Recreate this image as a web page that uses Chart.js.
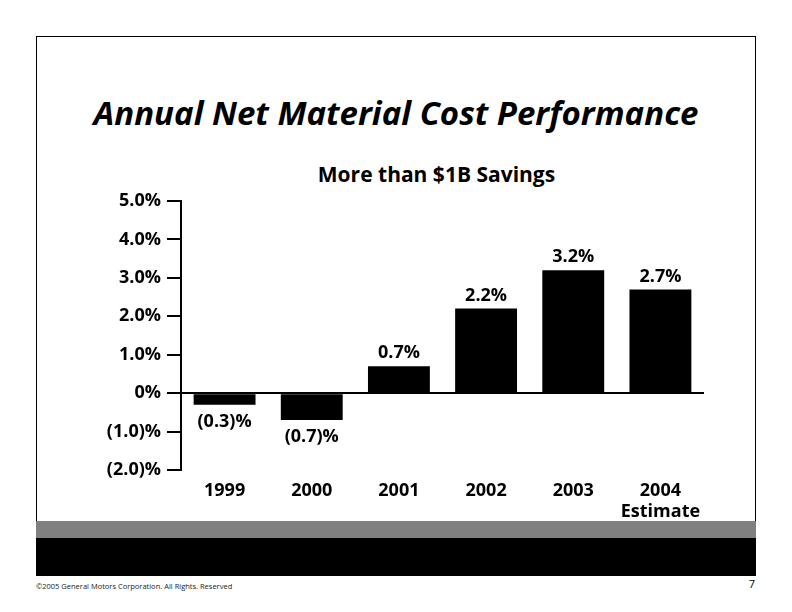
<!DOCTYPE html>
<html>
<head>
<meta charset="utf-8">
<script src="https://cdn.jsdelivr.net/npm/chart.js@4/dist/chart.umd.min.js"></script>
<style>
  body { margin: 0; width: 792px; height: 612px; background: #fff; position: relative; overflow: hidden; font-family: "Open Sans", sans-serif; }
  .frame { position: absolute; left: 36px; top: 36px; width: 720px; height: 540px; border: 1px solid #000; box-sizing: border-box; }
  .grey { position: absolute; left: 36px; top: 521px; width: 720px; height: 17px; background: #808080; }
  .black { position: absolute; left: 36px; top: 538px; width: 720px; height: 38px; background: #000; }
  #title { position: absolute; left: 36px; width: 720px; top: 93px; text-align: center; font-size: 33px; font-weight: 700; font-style: italic; line-height: 40px; }
  #subtitle { position: absolute; left: 175px; width: 523px; top: 160px; text-align: center; font-size: 21px; font-weight: 700; line-height: 28px; }
  #footer { position: absolute; left: 36px; top: 580px; font-size: 7.5px; line-height: 12px; color: #222; }
  #page { position: absolute; right: 37px; top: 577px; font-size: 11px; line-height: 14px; }
  #chartBox { position: absolute; left: 0; top: 0; width: 792px; height: 612px; }
</style>
</head>
<body>
<div class="frame"></div>
<div class="grey"></div>
<div class="black"></div>
<div id="title">Annual Net Material Cost Performance</div>
<div id="subtitle">More than $1B Savings</div>
<div id="footer">©2005 General Motors Corporation. All Rights. Reserved</div>
<div id="page">7</div>
<div id="chartBox"><canvas id="chart" width="792" height="612"></canvas></div>
<script>
const years = ['1999', '2000', '2001', '2002', '2003', ['2004', 'Estimate']];
const costChange = [-0.3, -0.7, 0.7, 2.2, 3.2, 2.7];
const yTicks = [-2, -1, 0, 1, 2, 3, 4, 5];

function pct(v) {
    const s = Math.abs(v).toFixed(1);
    if (v === 0) return '0%';
    return v < 0 ? '(' + s + ')%' : s + '%';
}

const barLabels = {
    id: 'barLabels',
    afterDatasetsDraw(chart) {
        const ctx = chart.ctx;
        const meta = chart.getDatasetMeta(0);
        ctx.save();
        ctx.font = 'bold 18px "Open Sans"';
        ctx.fillStyle = '#000';
        ctx.textAlign = 'center';
        ctx.textBaseline = 'middle';
        meta.data.forEach((bar, i) => {
            const v = costChange[i];
            if (v >= 0) {
                ctx.fillText(pct(v), bar.x, bar.y - 13);
            } else {
                ctx.fillText(pct(v), bar.x, bar.y + 17);
            }
        });
        ctx.restore();
    }
};

new Chart(document.getElementById('chart').getContext('2d'), {
    type: 'bar',
    data: {
        labels: years,
        datasets: [{
            data: costChange,
            backgroundColor: '#000',
            borderWidth: 0,
            barPercentage: 0.71,
            categoryPercentage: 1
        }]
    },
    options: {
        responsive: false,
        animation: false,
        layout: { padding: { left: 0, top: 201, right: 88, bottom: 82 } },
        plugins: { legend: { display: false }, tooltip: { enabled: false } },
        scales: {
            x: {
                grid: { display: false },
                border: { display: false },
                ticks: {
                    color: '#000',
                    font: { family: 'Open Sans', size: 18, weight: 'bold', lineHeight: 1.15 },
                    padding: 3,
                    maxRotation: 0
                },
                afterFit(scale) { scale.height = 60; }
            },
            y: {
                min: -2,
                max: 5,
                afterBuildTicks(scale) { scale.ticks = yTicks.map(v => ({ value: v })); },
                grid: {
                    color: c => (c.tick && c.tick.value === 0) ? '#000' : 'rgba(0,0,0,0)',
                    tickColor: '#000',
                    tickLength: 14,
                    lineWidth: 2
                },
                border: { display: true, color: '#000', width: 2 },
                ticks: {
                    color: '#000',
                    font: { family: 'Open Sans', size: 18, weight: 'bold' },
                    padding: 6,
                    callback: v => pct(v)
                },
                afterFit(scale) { scale.width = 181; }
            }
        }
    },
    plugins: [barLabels]
});
</script>
</body>
</html>
